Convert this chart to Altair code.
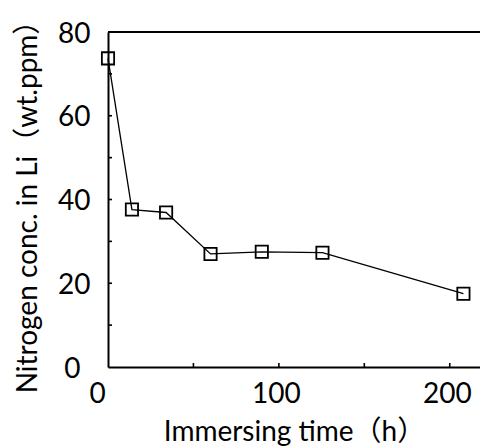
import altair as alt
import pandas as pd

# data
time_h = [0, 14, 34, 60, 90, 125.5, 208]
nitrogen_ppm = [73.7, 37.6, 36.9, 27.0, 27.5, 27.3, 17.5]
x_ticks = [50, 100, 150, 200]
y_ticks = [10, 20, 30, 40, 50, 60, 70]
x_labels = [0, 100, 200]
y_labels = [0, 20, 40, 60, 80]

W, H = 372, 335
FONT = "Lato, 'Noto Sans CJK JP', sans-serif"
FS = 28

df = pd.DataFrame({"t": time_h, "n": nitrogen_ppm})
xt = pd.DataFrame({"t": x_ticks})
yt = pd.DataFrame({"n": y_ticks})

xscale = alt.Scale(domain=[0, 217.7], nice=False, zero=False)
yscale = alt.Scale(domain=[0, 80], nice=False, zero=False)

xaxis = alt.Axis(
    values=x_labels, ticks=False, grid=False, domainWidth=2, domainColor="black",
    labelFontSize=FS, labelPadding=13, labelFlush=False, labelOverlap=False,
    labelOffset={"condition": {"test": "datum.value == 0", "value": -11}, "value": -3},
    title="Immersing time（h）", titleFontSize=FS, titleFontWeight="normal",
    titlePadding=10, labelColor="black", titleColor="black",
)
yaxis = alt.Axis(
    values=y_labels, ticks=False, grid=False, domainWidth=2, domainColor="black",
    labelFontSize=FS, labelOffset=2,
    labelPadding={"condition": {"test": "datum.value == 0", "value": 28}, "value": 18},
    title="Nitrogen conc. in Li（wt.ppm）", titleFontSize=FS, titleFontWeight="normal",
    titlePadding=15, labelColor="black", titleColor="black",
)

base = alt.Chart(df)
line = base.mark_line(color="black", strokeWidth=1.3).encode(
    x=alt.X("t:Q", scale=xscale, axis=xaxis),
    y=alt.Y("n:Q", scale=yscale, axis=yaxis),
)
pts = base.mark_point(shape="square", filled=False, color="black", size=150, strokeWidth=1.8, opacity=1).encode(
    x="t:Q", y="n:Q"
)
xtick = alt.Chart(xt).mark_rule(color="black", strokeWidth=1.6).encode(
    x=alt.X("t:Q"), y=alt.value(H), y2=alt.value(H - 4)
)
ytick = alt.Chart(yt).mark_rule(color="black", strokeWidth=1.6).encode(
    y=alt.Y("n:Q"), x=alt.value(0), x2=alt.value(4)
)
top = alt.Chart(df).mark_rule(color="black", strokeWidth=2).encode(
    x=alt.value(0), x2=alt.value(W), y=alt.value(0)
)

chart = alt.layer(line, pts, xtick, ytick, top).properties(
    width=W, height=H,
    autosize=alt.AutoSizeParams(type="none"),
    padding={"left": 100, "top": 24, "right": 0, "bottom": 81},
).configure_view(stroke=None).configure_axis(labelFont=FONT, titleFont=FONT)

chart.save("out.html", embed_options={"renderer": "svg", "actions": False})
